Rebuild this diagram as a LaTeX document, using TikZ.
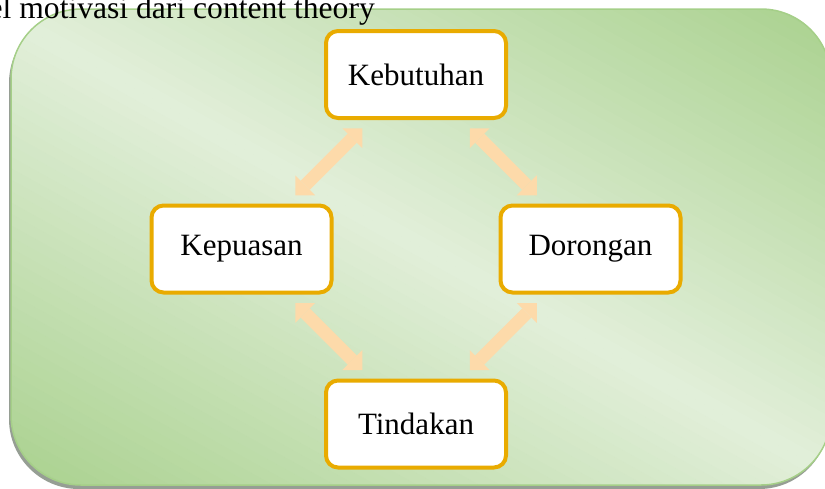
\documentclass[tikz,border=0pt]{standalone}
\usepackage{fontspec}
\setmainfont{Liberation Serif}
\usetikzlibrary{arrows.meta,calc}

\definecolor{panelDark}{RGB}{169,209,142}
\definecolor{panelLight}{RGB}{226,239,218}
\definecolor{panelEdge}{RGB}{165,207,136}
\definecolor{panelShadow}{RGB}{150,158,148}
\definecolor{boxEdge}{RGB}{233,171,0}
\definecolor{flowArrow}{RGB}{253,218,170}

\begin{document}
\begin{tikzpicture}[x=1pt,y=-1pt,
  stage/.style={draw=boxEdge, line width=4pt, fill=white, rounded corners=12pt,
    minimum width=180pt, minimum height=87pt, inner sep=0pt,
    font=\fontsize{31}{36}\selectfont},
  flowtip/.tip={Triangle[width=28pt,length=14pt,line width=0pt]},
  flow/.style={draw=flowArrow, line width=13pt, {flowtip}-{flowtip}},
]
\useasboundingbox (0,0) rectangle (825,488);

% panel shadow
\fill[panelShadow, rounded corners=70pt] (9,13) rectangle (829,489);
% panel body: a diagonal green gradient built from thin bands,
% lightest along the middle and darkest toward two opposite corners
\begin{scope}
  \clip[rounded corners=70pt] (11,9) rectangle (831,485);
  \begin{scope}[shift={(421,247)}, rotate=-29]
    \foreach \i in {0,...,81} {
      \pgfmathsetmacro\bandpos{-410+\i*10}
      \pgfmathsetmacro\bandmix{min(100,abs(\bandpos+5)/410*100)}
      \fill[panelDark!\bandmix!panelLight] (-720,\bandpos) rectangle (720,\bandpos+10.6);
    }
  \end{scope}
\end{scope}
\draw[panelEdge, line width=1.5pt, rounded corners=70pt] (11,9) rectangle (831,485);

% caption line running over the panel
\node[anchor=base east, inner sep=0pt, font=\fontsize{31.6}{36}\selectfont]
  (caption) at (375,18) {el motivasi dari content theory};

% the four stages of the cycle
\node[stage] (keb) at (416,74.5) {Kebutuhan};
\node[stage] (kep) at (241.5,249) {Kepuasan};
\node[stage] (dor) at (590.5,249) {Dorongan};
\node[stage] (tin) at (416,424) {Tindakan};

% midpoints between neighbouring boxes
\coordinate (mTL) at ($(kep.north east)!.5!(keb.south west)$);
\coordinate (mTR) at ($(keb.south east)!.5!(dor.north west)$);
\coordinate (mBL) at ($(kep.south east)!.5!(tin.north west)$);
\coordinate (mBR) at ($(tin.north east)!.5!(dor.south west)$);

% double-headed arrows
\draw[flow] ($(mTL)+(-33.5,33.5)$) -- ($(mTL)+(33.5,-33.5)$);
\draw[flow] ($(mTR)+(-33.5,-33.5)$) -- ($(mTR)+(33.5,33.5)$);
\draw[flow] ($(mBL)+(-33.5,-33.5)$) -- ($(mBL)+(33.5,33.5)$);
\draw[flow] ($(mBR)+(-33.5,33.5)$) -- ($(mBR)+(33.5,-33.5)$);
\end{tikzpicture}
\end{document}
